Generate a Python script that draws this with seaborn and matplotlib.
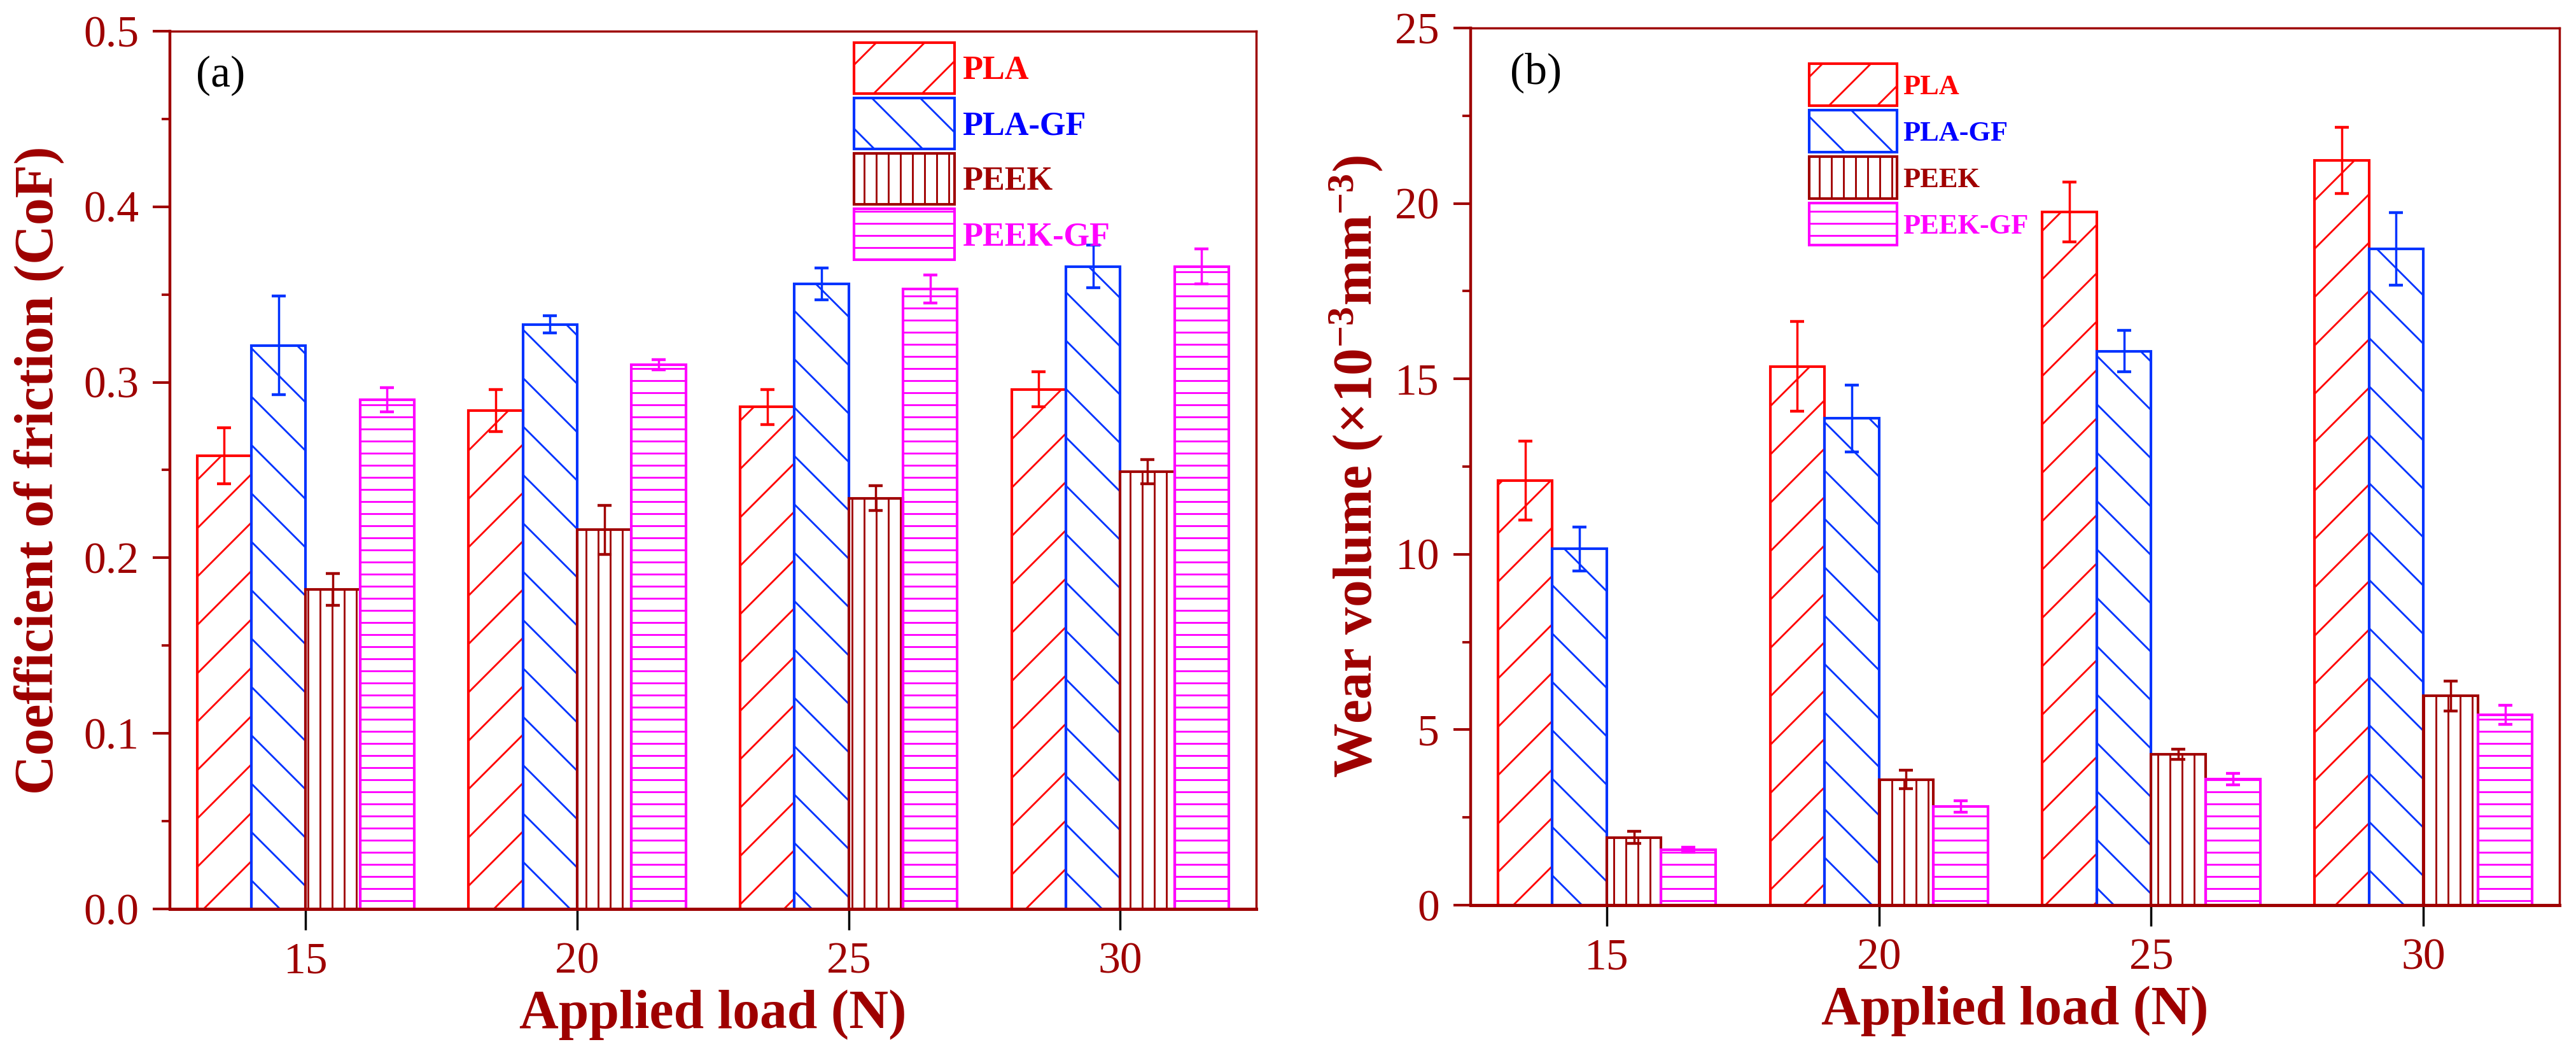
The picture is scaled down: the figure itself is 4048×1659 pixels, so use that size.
import numpy as np
import pandas as pd
import matplotlib
matplotlib.use("Agg")
import matplotlib.pyplot as plt
from matplotlib.ticker import MultipleLocator, AutoMinorLocator
from matplotlib.patches import Rectangle
from matplotlib.legend_handler import HandlerPatch
import seaborn as sns

# ---------------- data ----------------
loads = ["15", "20", "25", "30"]
materials = ["PLA", "PLA-GF", "PEEK", "PEEK-GF"]

cof_pla = [0.258, 0.284, 0.286, 0.296]
cof_plagf = [0.321, 0.333, 0.356, 0.366]
cof_peek = [0.182, 0.216, 0.234, 0.249]
cof_peekgf = [0.290, 0.310, 0.353, 0.366]

cof_err_pla = [0.016, 0.012, 0.010, 0.010]
cof_err_plagf = [0.028, 0.005, 0.009, 0.012]
cof_err_peek = [0.009, 0.014, 0.007, 0.007]
cof_err_peekgf = [0.007, 0.003, 0.008, 0.010]

wear_pla = [12.1, 15.35, 19.76, 21.23]
wear_plagf = [10.15, 13.87, 15.79, 18.70]
wear_peek = [1.93, 3.58, 4.30, 5.96]
wear_peekgf = [1.58, 2.81, 3.59, 5.43]

wear_err_pla = [1.12, 1.28, 0.85, 0.94]
wear_err_plagf = [0.62, 0.96, 0.59, 1.03]
wear_err_peek = [0.18, 0.26, 0.15, 0.43]
wear_err_peekgf = [0.07, 0.16, 0.17, 0.27]

# ---------------- style ----------------
DPI = 228
PX = 72.0 / DPI  # points per pixel
DARKRED = "#9E0000"
colors = ["#FF0000", "#0033FF", "#A00000", "#FF00FF"]
label_colors = ["#FF0000", "#0000FF", "#A00000", "#FF00FF"]
hatches = ["/", "\\", "||", "--"]

sns.set_theme(style="white")
plt.rcParams["font.family"] = ["Liberation Serif", "DejaVu Serif"]
plt.rcParams["mathtext.fontset"] = "custom"
plt.rcParams["mathtext.rm"] = "Liberation Serif:bold"
plt.rcParams["mathtext.it"] = "Liberation Serif:italic:bold"
plt.rcParams["mathtext.bf"] = "Liberation Serif:bold"
plt.rcParams["hatch.linewidth"] = 0.9


class BoxHandler(HandlerPatch):
    """Legend patch of fixed height, centred on the label's cap height."""

    def __init__(self, box_h_pt, **kw):
        super().__init__(**kw)
        self.box_h = box_h_pt

    def create_artists(self, legend, orig_handle, xdescent, ydescent, width,
                       height, fontsize, trans):
        yc = 0.33 * fontsize
        p = Rectangle((-xdescent, yc - self.box_h / 2), width, self.box_h)
        self.update_prop(p, orig_handle, legend)
        p.set_transform(trans)
        return [p]


fig = plt.figure(figsize=(4048 / DPI, 1659 / DPI), dpi=DPI)
ax_a = fig.add_axes([0.0660, 0.1393, 0.4216, 0.8312])
ax_b = fig.add_axes([0.5709, 0.1429, 0.4227, 0.8306])


def make_df(vals):
    rows = []
    for m, v in zip(materials, vals):
        for l, y in zip(loads, v):
            rows.append({"load": l, "material": m, "value": y})
    return pd.DataFrame(rows)


def draw(ax, vals, errs, ylim, major, ylabel, panel, ylabel_x, leg_pos, leg_fs,
         box_w_px, box_h_px, pitch_px, textpad_px):
    df = make_df(vals)
    sns.barplot(data=df, x="load", y="value", hue="material", order=loads,
                hue_order=materials, palette=colors, fill=False, linewidth=1.3,
                errorbar=None, legend=False, width=0.8, ax=ax)
    first = []
    for cont, h, c, e, v in zip(ax.containers, hatches, colors, errs, vals):
        xs = []
        for p in cont:
            p.set_hatch(h)
            p.set_edgecolor(c)
            xs.append(p.get_x() + p.get_width() / 2)
        first.append(cont.patches[0])
        ax.errorbar(xs, v, yerr=e, fmt="none", ecolor=c, elinewidth=1.1,
                    capsize=3.6, capthick=1.4, zorder=5)

    ax.set_ylim(*ylim)
    ax.set_xlim(-0.5, 3.5)
    ax.yaxis.set_major_locator(MultipleLocator(major))
    ax.yaxis.set_minor_locator(AutoMinorLocator(2))
    if major < 1:
        ax.yaxis.set_major_formatter(plt.FormatStrFormatter("%.1f"))
    else:
        ax.yaxis.set_major_formatter(plt.FormatStrFormatter("%d"))

    for side, lw in [("left", 1.4), ("bottom", 1.6), ("top", 1.1), ("right", 1.1)]:
        ax.spines[side].set_visible(True)
        ax.spines[side].set_color(DARKRED)
        ax.spines[side].set_linewidth(lw)

    ax.tick_params(axis="y", which="major", direction="out", length=8.5, width=1.3,
                   colors=DARKRED, labelsize=22, pad=7, left=True, right=False)
    ax.tick_params(axis="y", which="minor", direction="out", length=4, width=1.2,
                   colors=DARKRED, left=True, right=False)
    ax.tick_params(axis="x", which="major", direction="out", length=10.5, width=1.1,
                   color="black", labelcolor=DARKRED, labelsize=22, pad=6,
                   bottom=True, top=False)
    ax.tick_params(axis="x", which="minor", bottom=False, top=False)

    ax.set_xlabel("Applied load (N)", fontsize=27, fontweight="bold", color=DARKRED)
    ax.xaxis.set_label_coords(0.5, -0.092)
    ax.set_ylabel(ylabel, fontsize=27, fontweight="bold", color=DARKRED)
    ax.yaxis.set_label_coords(ylabel_x, 0.5)

    ax.text(panel[1], panel[2], panel[0], transform=ax.transAxes, fontsize=22,
            color="black", ha="left", va="top")

    fs_px = leg_fs / PX
    # legend row height = fs * (0.65*hh + 0.245) in matplotlib's layout
    hh = (pitch_px / fs_px - 0.245) / 0.65
    leg = ax.legend(first, materials, loc="upper left",
                    bbox_to_anchor=leg_pos, frameon=False, borderpad=0,
                    borderaxespad=0, handlelength=box_w_px / fs_px,
                    handleheight=hh, labelspacing=0.0,
                    handletextpad=textpad_px / fs_px,
                    handler_map={Rectangle: BoxHandler(box_h_px * PX)},
                    prop={"family": ["Liberation Serif"], "weight": "bold",
                          "size": leg_fs})
    for t, c in zip(leg.get_texts(), label_colors):
        t.set_color(c)


draw(ax_a,
     [cof_pla, cof_plagf, cof_peek, cof_peekgf],
     [cof_err_pla, cof_err_plagf, cof_err_peek, cof_err_peekgf],
     (0, 0.5), 0.1, "Coefficient of friction (CoF)", ("(a)", 0.024, 0.972),
     -0.097, (0.630, 0.9888), 16.5, 158, 80, 87, 12)

draw(ax_b,
     [wear_pla, wear_plagf, wear_peek, wear_peekgf],
     [wear_err_pla, wear_err_plagf, wear_err_peek, wear_err_peekgf],
     (0, 25), 5, r"Wear volume (×10$^{-3}$mm$^{-3}$)", ("(b)", 0.036, 0.972),
     -0.079, (0.311, 0.9614), 14, 138, 66, 73, 9)

fig.savefig("out.png", dpi=DPI)
